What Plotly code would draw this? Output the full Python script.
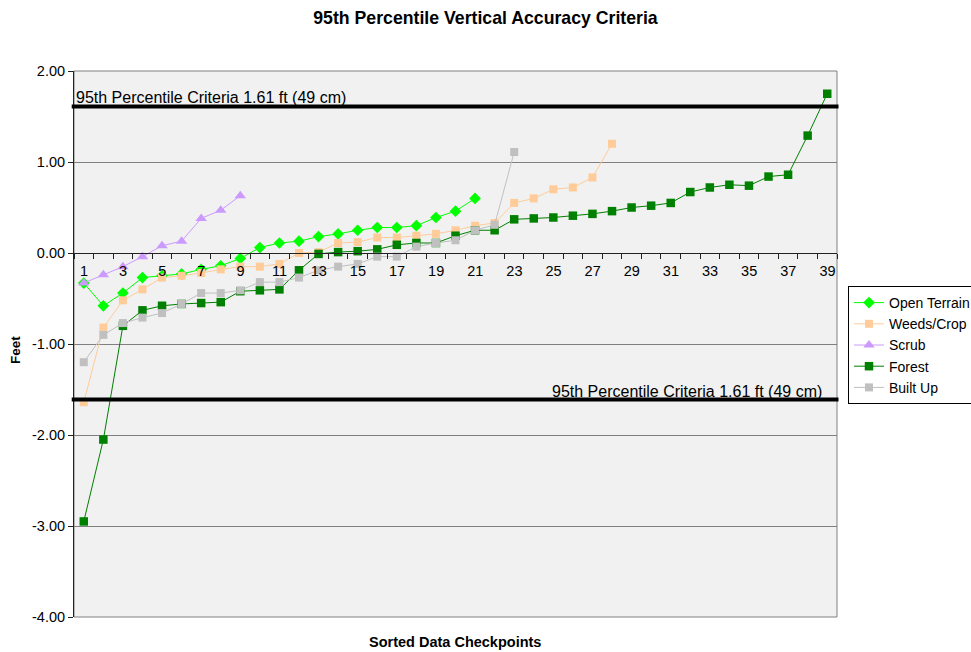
import plotly.graph_objects as go

# ---- data ----
open_terrain = [-0.33, -0.58, -0.44, -0.27, -0.25, -0.23, -0.18, -0.14, -0.06, 0.06,
                0.11, 0.13, 0.18, 0.21, 0.25, 0.28, 0.28, 0.30, 0.39, 0.46, 0.60]
weeds_crop = [-1.64, -0.82, -0.52, -0.40, -0.27, -0.25, -0.22, -0.18, -0.15, -0.15,
              -0.12, 0.00, 0.01, 0.11, 0.12, 0.17, 0.17, 0.19, 0.21, 0.25,
              0.30, 0.33, 0.55, 0.60, 0.70, 0.72, 0.83, 1.20]
scrub = [-0.33, -0.24, -0.15, -0.04, 0.08, 0.13, 0.38, 0.47, 0.63]
forest = [-2.95, -2.05, -0.80, -0.63, -0.58, -0.56, -0.55, -0.54, -0.42, -0.41,
          -0.40, -0.19, -0.01, 0.01, 0.02, 0.04, 0.09, 0.11, 0.11, 0.19,
          0.25, 0.25, 0.37, 0.38, 0.39, 0.41, 0.43, 0.46, 0.50, 0.52,
          0.55, 0.67, 0.72, 0.75, 0.74, 0.84, 0.86, 1.29, 1.75]
built_up = [-1.20, -0.90, -0.77, -0.71, -0.66, -0.56, -0.44, -0.44, -0.41, -0.32,
            -0.32, -0.27, -0.19, -0.15, -0.12, -0.04, -0.04, 0.07, 0.11, 0.14,
            0.25, 0.31, 1.11]

criteria = 1.61
criteria_label = "95th Percentile Criteria 1.61 ft (49 cm)"
n_checkpoints = 39
x_tick_labels = [str(i) if i % 2 == 1 else "" for i in range(1, n_checkpoints + 2)]
y_tick_vals = [-4, -3, -2, -1, 0, 1, 2]
y_tick_text = ["-4.00", "-3.00", "-2.00", "-1.00", "0.00", "1.00", "2.00"]

series = [
    ("Open Terrain", open_terrain, "#00ff00", "diamond", 9),
    ("Weeds/Crop", weeds_crop, "#ffcc99", "square", 8),
    ("Scrub", scrub, "#cc99ff", "triangle-up", 10),
    ("Forest", forest, "#008000", "square", 8.5),
    ("Built Up", built_up, "#c0c0c0", "square", 8),
]

FONT = "Liberation Sans, Arial, sans-serif"
fig = go.Figure()
for i, (name, vals, color, sym, size) in enumerate(series):
    fig.add_trace(go.Scatter(
        x=list(range(1, len(vals) + 1)), y=vals, name=name, mode="lines+markers",
        line=dict(color=color, width=1),
        marker=dict(color=color, symbol=sym, size=size, line=dict(width=0)),
        legendgroup=name,
    ))

L, R, T, B = 74, 134, 71, 35
W, H = 971, 652
pw, ph = W - L - R, H - T - B
cat_w = pw / n_checkpoints

fig.update_layout(
    width=W, height=H,
    margin=dict(l=L, r=R, t=T, b=B, autoexpand=False),
    paper_bgcolor="white", plot_bgcolor="#f1f1f1",
    font=dict(family=FONT, size=14, color="black"),
    title=dict(text="<b>95th Percentile Vertical Accuracy Criteria</b>",
               x=0.5, xanchor="center", xref="container",
               y=1 - 18 / H, yanchor="middle", yref="container",
               font=dict(size=17.7)),
    showlegend=True,
    legend=dict(x=(848 - L) / pw, xanchor="left", y=(H - B - 286) / ph, yanchor="top",
                bgcolor="white", bordercolor="black", borderwidth=1,
                font=dict(size=14), tracegroupgap=0, itemwidth=30),
    xaxis=dict(range=[0.5, n_checkpoints + 0.5], anchor="free", position=4 / 6,
               tickmode="array", tickvals=[i + 0.5 for i in range(0, n_checkpoints + 1)],
               ticktext=x_tick_labels, ticklabelshift=int(round(cat_w / 2)),
               ticks="outside", ticklen=5, tickcolor="#222", showline=True,
               linecolor="#222", linewidth=1, showgrid=False, zeroline=False,
               tickfont=dict(size=14.5)),
    yaxis=dict(range=[-4, 2], tickmode="array", tickvals=y_tick_vals, ticktext=y_tick_text,
               ticks="outside", ticklen=5, tickcolor="#222", showline=True,
               linecolor="#222", linewidth=1, showgrid=True, gridcolor="#808080",
               gridwidth=1, zeroline=False, tickfont=dict(size=14.5)),
)

# plot frame
fig.add_shape(type="rect", xref="paper", yref="paper", x0=0, x1=1, y0=0, y1=1,
              line=dict(color="#808080", width=1), layer="below")
# criteria lines
for v in (criteria, -criteria):
    fig.add_shape(type="line", xref="paper", yref="y", x0=-0.003, x1=1.002, y0=v, y1=v,
                  line=dict(color="black", width=4))
fig.add_annotation(text=criteria_label, xref="paper", yref="y", x=0.0, y=criteria,
                   xanchor="left", yanchor="bottom", showarrow=False, yshift=-2,
                   font=dict(size=16))
fig.add_annotation(text=criteria_label, xref="paper", yref="y", x=(824 - L) / pw, y=-criteria,
                   xanchor="right", yanchor="bottom", showarrow=False, yshift=-2,
                   font=dict(size=16))
# axis titles
fig.add_annotation(text="<b>Feet</b>", xref="paper", yref="paper",
                   x=-(L - 15) / pw, y=(H - B - 350) / ph, textangle=-90,
                   showarrow=False, xanchor="center", yanchor="middle", font=dict(size=13.5))
fig.add_annotation(text="<b>Sorted Data Checkpoints</b>", xref="paper", yref="paper",
                   x=(455 - L) / pw, y=-(642 - (H - B)) / ph,
                   showarrow=False, xanchor="center", yanchor="middle", font=dict(size=14.5))

fig.write_html("out.html", config={"displayModeBar": False},
               post_script="document.body.style.margin='0';document.body.style.padding='0';")
